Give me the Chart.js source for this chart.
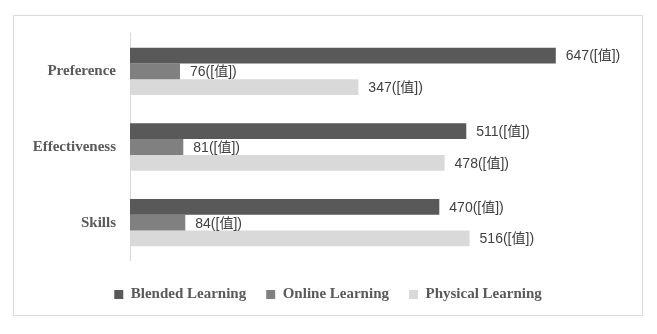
<!DOCTYPE html>
<html lang="en">
<head>
<meta charset="UTF-8">
<title>Learning Mode Comparison</title>
<script src="https://cdn.jsdelivr.net/npm/chart.js"></script>
<style>
    body {
        margin: 0;
        background: #ffffff;
    }
    .chart-box {
        position: absolute;
        left: 13px;
        top: 15px;
        width: 630px;
        height: 301px;
        box-sizing: border-box;
        border: 1px solid #d9d9d9;
        background: #ffffff;
    }
</style>
</head>
<body>
<div class="chart-box">
    <canvas id="chart"></canvas>
</div>
<script>
    const categories = ['Preference', 'Effectiveness', 'Skills'];
    const seriesNames = ['Blended Learning', 'Online Learning', 'Physical Learning'];
    const blended = [647, 511, 470];
    const online = [76, 81, 84];
    const physical = [347, 478, 516];
    const colors = ['#595959', '#808080', '#d9d9d9'];

    // value labels like "647([值])" right of each bar
    const valueLabels = {
        id: 'valueLabels',
        afterDatasetsDraw(chart) {
            const ctx = chart.ctx;
            ctx.save();
            ctx.font = '14px "Liberation Sans", "Noto Sans CJK SC", sans-serif';
            ctx.fillStyle = '#404040';
            ctx.textAlign = 'left';
            ctx.textBaseline = 'middle';
            chart.data.datasets.forEach((ds, i) => {
                chart.getDatasetMeta(i).data.forEach((bar, j) => {
                    ctx.fillText(ds.data[j] + '([值])', bar.x + 10, bar.y + 1);
                });
            });
            ctx.restore();
        }
    };

    new Chart(document.getElementById('chart'), {
        type: 'bar',
        data: {
            labels: categories,
            datasets: [blended, online, physical].map((vals, i) => ({
                label: seriesNames[i],
                data: vals,
                backgroundColor: colors[i],
                borderWidth: 0,
                barPercentage: 1,
                categoryPercentage: 0.625
            }))
        },
        options: {
            indexAxis: 'y',
            responsive: true,
            maintainAspectRatio: false,
            animation: false,
            layout: { padding: { top: 17.5, right: 0, bottom: 3, left: 0 } },
            plugins: {
                tooltip: { enabled: false },
                legend: {
                    position: 'bottom',
                    labels: {
                        boxWidth: 9,
                        boxHeight: 9,
                        padding: 20,
                        color: '#595959',
                        font: { family: '"Liberation Serif", serif', size: 15, weight: 'bold' }
                    }
                }
            },
            scales: {
                x: {
                    min: 0,
                    max: 778,
                    grid: { display: false },
                    border: { display: false },
                    ticks: { display: false },
                    afterFit: (scale) => { scale.height = 6.5; }
                },
                y: {
                    afterFit: (scale) => {
                        scale.width = 116;
                        scale.paddingTop = 0;
                        scale.paddingBottom = 0;
                    },
                    grid: { display: false, drawTicks: false },
                    border: { color: '#d9d9d9', width: 1 },
                    ticks: {
                        padding: 14,
                        color: '#595959',
                        font: { family: '"Liberation Serif", serif', size: 15, weight: 'bold' }
                    }
                }
            }
        },
        plugins: [valueLabels]
    });
</script>
</body>
</html>
